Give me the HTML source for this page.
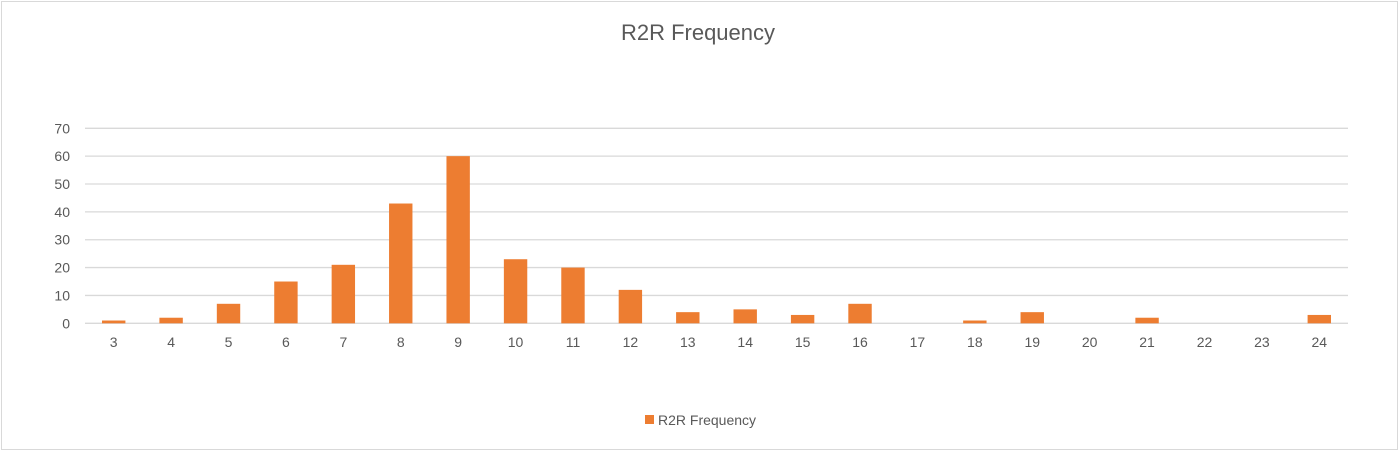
<!DOCTYPE html>
<html><head><meta charset="utf-8"><style>
body{margin:0;background:#fff;}
svg{display:block;font-family:"Liberation Sans",sans-serif;}
</style></head><body>
<svg width="1400" height="452">
<rect x="1.5" y="1.5" width="1396" height="448" fill="#fff" stroke="#d9d9d9"/>
<text x="698" y="40" font-size="22" fill="#595959" text-anchor="middle">R2R Frequency</text>
<g id="grid"></g><g id="ylab"></g><g id="bars"></g><g id="xlab"></g>
<g>
<rect x="645" y="415" width="9" height="9" fill="#ed7d31"/>
<text x="658" y="425" font-size="14" fill="#595959">R2R Frequency</text>
</g>
</svg>
<script>
const categories=["3","4","5","6","7","8","9","10","11","12","13","14","15","16","17","18","19","20","21","22","23","24"];
const values=[1,2,7,15,21,43,60,23,20,12,4,5,3,7,0,1,4,0,2,0,0,3];
const yTicks=[0,10,20,30,40,50,60,70];
const NS="http://www.w3.org/2000/svg";
const L=85,R=1348,Y0=323.3,Y70=128.3,yMax=70;
const y=v=>Y0-(v/yMax)*(Y0-Y70);
const bw=(R-L)/categories.length;
const x=i=>L+bw*(i+0.5);
function mk(t,a,p){const e=document.createElementNS(NS,t);for(const k in a)e.setAttribute(k,a[k]);p.appendChild(e);return e;}
const g=document.getElementById('grid'),yl=document.getElementById('ylab'),b=document.getElementById('bars'),xl=document.getElementById('xlab');
yTicks.forEach(t=>{
 const ln=mk('line',{x1:L,x2:R,y1:y(t),y2:y(t),stroke:'#d9d9d9','stroke-width':1.3},g);
 
 
 const tx=mk('text',{x:70,y:y(t)+5,'font-size':14,fill:'#595959','text-anchor':'end'},yl);
 tx.textContent=t;
 
 
});
categories.forEach((c,i)=>{
 const v=values[i];
 if(v>0){
  const r=mk('rect',{x:x(i)-11.7,y:y(v),width:23.4,height:Y0-y(v),fill:'#ed7d31'},b);
  
  
 }
 const tx=mk('text',{x:x(i),y:347,'font-size':14,fill:'#595959','text-anchor':'middle'},xl);
 tx.textContent=c;
 
 
});
</script>
</body></html>
